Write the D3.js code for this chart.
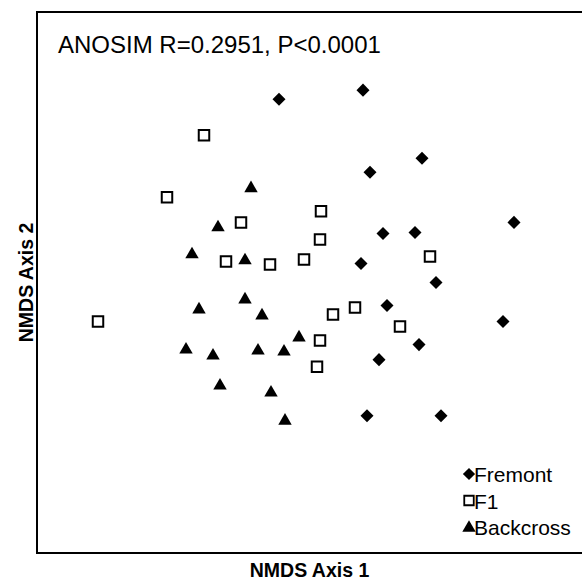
<!DOCTYPE html>
<html>
<head>
<meta charset="utf-8">
<script src="https://cdn.jsdelivr.net/npm/d3@7"></script>
<style>
  body { margin: 0; background: #fff; }
  text { font-family: Arial, "Liberation Sans", sans-serif; }
</style>
</head>
<body>
<div id="chart"></div>
<script>
// NMDS scores
var fremont = [
  [-0.155, 0.915], [0.265, 0.96], [0.30, 0.55], [0.56, 0.62], [1.02, 0.30],
  [0.365, 0.245], [0.525, 0.25], [0.255, 0.095], [0.63, 0.0], [0.385, -0.115],
  [0.965, -0.195], [0.545, -0.31], [0.345, -0.385], [0.285, -0.665], [0.655, -0.665]
];
var f1 = [
  [-0.53, 0.735], [-0.715, 0.425], [-0.345, 0.30], [-0.42, 0.105], [-0.20, 0.09],
  [-1.06, -0.195], [0.055, 0.355], [0.05, 0.215], [-0.03, 0.115], [0.60, 0.13],
  [0.225, -0.125], [0.115, -0.16], [0.45, -0.22], [0.05, -0.29], [0.035, -0.42]
];
var backcross = [
  [-0.295, 0.47], [-0.46, 0.275], [-0.59, 0.14], [-0.325, 0.11], [-0.555, -0.135],
  [-0.325, -0.085], [-0.24, -0.165], [-0.62, -0.335], [-0.485, -0.365], [-0.26, -0.34],
  [-0.13, -0.345], [-0.055, -0.275], [-0.45, -0.515], [-0.195, -0.55], [-0.125, -0.69]
];
var groupNames = ["Fremont", "F1", "Backcross"];
var statLabel = "ANOSIM R=0.2951, P<0.0001";

var width = 582, height = 580;
// note: "top" is taken by window.top, so use other names
var plotL = 37, plotT = 12, plotR = 582, plotB = 553;

var svg = d3.select("#chart").append("svg")
    .attr("width", width).attr("height", height);

var x = d3.scaleLinear().domain([-1.365, 1.36]).range([plotL, plotR]);
var y = d3.scaleLinear().domain([-1.35, 1.35]).range([plotB, plotT]);

// frame (right edge runs off the picture)
svg.append("rect")
    .attr("x", plotL).attr("y", plotT)
    .attr("width", plotR - plotL + 4).attr("height", plotB - plotT)
    .attr("fill", "none").attr("stroke", "#000").attr("stroke-width", 2);

var diamond = d3.symbol().type(d3.symbolSquare).size(85);
var square = d3.symbol().type(d3.symbolSquare).size(110);
var triangle = d3.symbol().type(d3.symbolTriangle).size(78);

function drawGroup(data, gen, filled, rot) {
    svg.append("g").selectAll("path").data(data).enter().append("path")
        .attr("d", gen())
        .attr("transform", function(d) {
            return "translate(" + x(d[0]) + "," + y(d[1]) + ")" + (rot ? " rotate(45)" : "");
        })
        .attr("fill", filled ? "#000" : "#fff")
        .attr("stroke", filled ? "none" : "#000")
        .attr("stroke-width", 2);
}
drawGroup(fremont, diamond, true, true);
drawGroup(f1, square, false, false);
drawGroup(backcross, triangle, true, false);

svg.append("text")
    .attr("x", 58).attr("y", 53)
    .attr("font-size", 24)
    .text(statLabel);

// legend
var legend = svg.append("g").attr("transform", "translate(469,474)");
groupNames.forEach(function(name, i) {
    var row = legend.append("g").attr("transform", "translate(0," + (i * 26.5) + ")");
    row.append("path")
        .attr("d", d3.symbol().type(i == 2 ? d3.symbolTriangle : d3.symbolSquare)
            .size(i == 0 ? 75 : (i == 1 ? 90 : 78))())
        .attr("transform", i == 0 ? "rotate(45)" : (i == 2 ? "translate(0,1)" : ""))
        .attr("fill", i == 1 ? "#fff" : "#000")
        .attr("stroke", i == 1 ? "#000" : "none")
        .attr("stroke-width", 1.8);
    row.append("text")
        .attr("x", 5).attr("y", 8)
        .attr("font-size", 21)
        .text(name);
});

// axis titles
svg.append("text")
    .attr("x", (plotL + plotR) / 2).attr("y", 577)
    .attr("text-anchor", "middle")
    .attr("font-size", 19.5).attr("font-weight", "bold")
    .text("NMDS Axis 1");

svg.append("text")
    .attr("transform", "translate(33," + ((plotT + plotB) / 2) + ") rotate(-90)")
    .attr("text-anchor", "middle")
    .attr("font-size", 19.5).attr("font-weight", "bold")
    .text("NMDS Axis 2");
</script>
</body>
</html>
